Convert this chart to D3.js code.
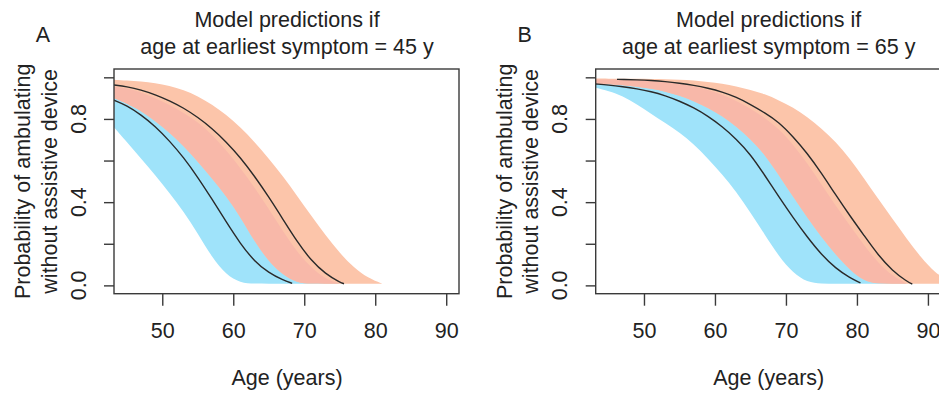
<!DOCTYPE html>
<html><head><meta charset="utf-8">
<script src="https://cdn.jsdelivr.net/npm/d3@7/dist/d3.min.js"></script>
<style>
body{margin:0;background:#fff}
svg{display:block}
text{font-family:"Liberation Sans",Arial,Helvetica,sans-serif;fill:#222}
</style>
</head><body>
<svg id="chart" width="939" height="395"></svg>
<script>
// ---------- data ----------
const xTicks = [50, 60, 70, 80, 90];
const yTicks = [0, 0.2, 0.4, 0.6, 0.8, 1.0];
const yTickLabels = ["0.0", "", "0.4", "", "0.8", ""];
const titleLine1 = "Model predictions if";
const xTitle = "Age (years)";
const yTitle1 = "Probability of ambulating";
const yTitle2 = "without assistive device";

// Panel A (age at earliest symptom = 45 y)
const bandAgesA_blue = [43.2,45,47,49,51,53,55,57,59,61,63,65,67,69,71,73,75];
const blueLoA = [.76,.69,.61,.53,.445,.355,.25,.135,.05,.012,.008,.008,.008,.008,.008,.008,.008];
const blueHiA = [.955,.948,.928,.90,.868,.83,.785,.725,.65,.565,.47,.368,.26,.16,.085,.03,.008];
const bandAgesA_sal = [43.2,45,47,49,51,53,55,57,59,61,63,65,67,69,71,73,75,77,79,81];
const salLoA = [.9,.875,.84,.79,.735,.67,.595,.515,.43,.33,.21,.115,.05,.012,.008,.008,.008,.008,.008,.008];
const salHiA = [.988,.985,.98,.972,.96,.94,.91,.87,.82,.76,.69,.61,.525,.43,.335,.24,.155,.085,.035,.008];
const blueMedA = [[43.2,.89],[45,.865],[47,.82],[49,.765],[51,.695],[53,.615],[55,.52],[57,.415],[59,.305],[61,.2],[63,.115],[65,.06],[67,.025],[68.3,.01]];
const salMedA = [[43.2,.963],[45,.955],[47,.94],[49,.917],[51,.888],[53,.853],[55,.808],[57,.755],[59,.69],[61,.615],[63,.525],[65,.425],[67,.318],[69,.21],[71,.118],[73,.055],[75,.015],[75.6,.008]];

// Panel B (age at earliest symptom = 65 y)
const bandAgesB_blue = [43.2,45,47,49,51,53,55,57,59,61,63,65,67,69,71,73,75,77,79,81,83,85,87];
const blueLoB = [.95,.935,.91,.87,.825,.78,.735,.68,.61,.535,.45,.35,.245,.14,.06,.015,.008,.008,.008,.008,.008,.008,.008];
const blueHiB = [.99,.99,.989,.987,.983,.977,.968,.956,.94,.918,.888,.85,.807,.752,.677,.588,.485,.383,.288,.193,.108,.045,.008];
const bandAgesB_sal = [43.2,45,47,49,51,53,55,57,59,61,63,65,67,69,71,73,75,77,79,81,83,85,87,89,91,93];
const salLoB = [.97,.967,.962,.955,.945,.932,.912,.886,.854,.814,.764,.704,.63,.53,.426,.326,.232,.148,.075,.02,.008,.008,.008,.008,.008,.008];
const salHiB = [.994,.993,.993,.993,.992,.991,.989,.985,.978,.97,.957,.94,.92,.89,.855,.81,.755,.69,.61,.515,.415,.32,.225,.135,.06,.02];
const blueMedB = [[43.2,.968],[45,.963],[47,.955],[49,.945],[51,.932],[53,.912],[55,.886],[57,.854],[59,.814],[61,.764],[63,.704],[65,.63],[67,.53],[69,.426],[71,.326],[73,.232],[75,.148],[77,.082],[79,.036],[80.5,.012]];
const salMedB = [[46.2,.99],[47,.99],[49,.988],[51,.985],[53,.98],[55,.972],[57,.962],[59,.948],[61,.93],[63,.905],[65,.87],[67,.83],[69,.785],[71,.715],[73,.635],[75,.54],[77,.435],[79,.335],[81,.24],[83,.145],[85,.07],[87,.02],[87.8,.006]];

const panels = [
  {id:"A", letter:"A", title2:"age at earliest symptom = 45 y", dx:0,
   blueAges:bandAgesA_blue, blueLo:blueLoA, blueHi:blueHiA,
   salAges:bandAgesA_sal, salLo:salLoA, salHi:salHiA, blueMed:blueMedA, salMed:salMedA},
  {id:"B", letter:"B", title2:"age at earliest symptom = 65 y", dx:481.7,
   blueAges:bandAgesB_blue, blueLo:blueLoB, blueHi:blueHiB,
   salAges:bandAgesB_sal, salLo:salLoB, salHi:salHiB, blueMed:blueMedB, salMed:salMedB}
];

// ---------- layout ----------
const box = {left:114, right:459, top:69, bottom:293.7};
const FS = "21.5px";
const colBlue = "#9fe3fa", colSal = "#fcc5aa", colOver = "#f8b8a9";
const ink = "#3a3a3a";

const svg = d3.select("#chart");
const defs = svg.append("defs");

panels.forEach(p => {
  const g = svg.append("g").attr("transform", `translate(${p.dx},0)`);
  const x = d3.scaleLinear().domain([43.2, 91.8]).range([box.left, box.right]);
  const y = d3.scaleLinear().domain([-0.04, 1.04]).range([box.bottom, box.top]);

  defs.append("clipPath").attr("id", "plot" + p.id)
    .append("rect").attr("x", box.left).attr("y", box.top)
    .attr("width", box.right - box.left).attr("height", box.bottom - box.top);

  const blueArea = d3.area()
    .x((d, i) => x(p.blueAges[i])).y0((d, i) => y(p.blueLo[i])).y1((d, i) => y(p.blueHi[i]))
    .curve(d3.curveBasis);
  const salArea = d3.area()
    .x((d, i) => x(p.salAges[i])).y0((d, i) => y(p.salLo[i])).y1((d, i) => y(p.salHi[i]))
    .curve(d3.curveBasis);

  defs.append("clipPath").attr("id", "sal" + p.id)
    .append("path").attr("d", salArea(p.salAges));

  const plot = g.append("g").attr("clip-path", `url(#plot${p.id})`);
  plot.append("path").attr("d", blueArea(p.blueAges)).attr("fill", colBlue);
  plot.append("path").attr("d", salArea(p.salAges)).attr("fill", colSal);
  plot.append("g").attr("clip-path", `url(#sal${p.id})`)
    .append("path").attr("d", blueArea(p.blueAges)).attr("fill", colOver);

  const line = d3.line().x(d => x(d[0])).y(d => y(d[1])).curve(d3.curveBasis);
  [p.blueMed, p.salMed].forEach(arr => {
    plot.append("path").attr("d", line(arr)).attr("fill", "none")
      .attr("stroke", "#2a2a2a").attr("stroke-width", 1.4);
  });

  // box
  g.append("rect").attr("x", box.left).attr("y", box.top)
    .attr("width", box.right - box.left).attr("height", box.bottom - box.top)
    .attr("fill", "none").attr("stroke", ink).attr("stroke-width", 1.4);

  // x axis
  const xa = g.append("g").attr("transform", `translate(0,${box.bottom})`)
    .call(d3.axisBottom(x).tickValues(xTicks).tickSize(12).tickSizeOuter(0).tickPadding(17).tickFormat(d3.format("d")));
  xa.select(".domain").remove();
  xa.selectAll(".tick line").attr("stroke", ink).attr("stroke-width", 1.4);
  xa.selectAll(".tick text").style("font-size", FS).attr("fill", "#222");

  // y axis
  const ya = g.append("g").attr("transform", `translate(${box.left},0)`)
    .call(d3.axisLeft(y).tickValues(yTicks).tickSize(10).tickSizeOuter(0).tickFormat(""));
  ya.select(".domain").remove();
  ya.selectAll(".tick line").attr("stroke", ink).attr("stroke-width", 1.4);
  yTicks.forEach((v, i) => {
    if (!yTickLabels[i]) return;
    g.append("text").attr("transform", `translate(85.5,${y(v)}) rotate(-90)`)
      .attr("text-anchor", "middle").style("font-size", FS).text(yTickLabels[i]);
  });

  // titles
  const cx = (box.left + box.right) / 2 + 0.5;
  const cy = (box.top + box.bottom) / 2;
  g.append("text").attr("x", cx).attr("y", 27).attr("text-anchor", "middle").style("font-size", FS).text(titleLine1);
  g.append("text").attr("x", cx).attr("y", 53.5).attr("text-anchor", "middle").style("font-size", FS).text(p.title2);
  g.append("text").attr("x", 43).attr("y", 41.5).attr("text-anchor", "middle").style("font-size", FS).text(p.letter);
  g.append("text").attr("x", cx).attr("y", 385).attr("text-anchor", "middle").style("font-size", FS).text(xTitle);
  g.append("text").attr("transform", `translate(30,${cy}) rotate(-90)`).attr("text-anchor", "middle").style("font-size", FS).text(yTitle1);
  g.append("text").attr("transform", `translate(56.5,${cy}) rotate(-90)`).attr("text-anchor", "middle").style("font-size", FS).text(yTitle2);
});
</script>
</body></html>
